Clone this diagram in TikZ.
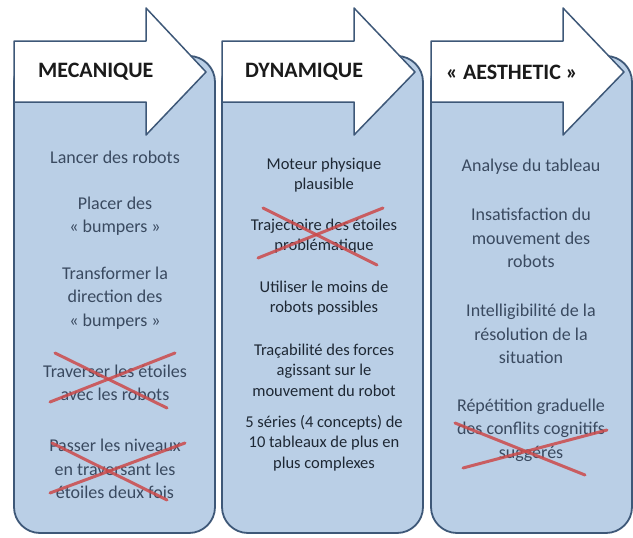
\documentclass[tikz,border=0pt]{standalone}
\usepackage{fontspec}
\setmainfont{Carlito}
\definecolor{panelblue}{HTML}{BACFE6}
\definecolor{edgeblue}{HTML}{3E5878}
\definecolor{headtext}{HTML}{1A1A1A}
\definecolor{itemtext}{HTML}{3A4A60}
\definecolor{itemdark}{HTML}{1E2834}
\definecolor{crossred}{HTML}{CC4A4A}
\tikzset{
  panel/.style={fill=panelblue, draw=edgeblue, line width=1.8pt, rounded corners=26pt},
  arrowshape/.style={fill=white, draw=edgeblue, line width=1.5pt, line join=round},
  head/.style={font=\fontsize{22}{26}\selectfont\bfseries, text=headtext, anchor=west, inner sep=0pt},
  item/.style={align=center, font=\fontsize{18}{23.5}\selectfont, text=itemtext, inner sep=0pt},
  itemb/.style={align=center, font=\fontsize{16.5}{20.5}\selectfont, text=itemdark, inner sep=0pt},
  crossline/.style={draw=crossred, line width=3pt, opacity=0.85, line cap=round}
}
\begin{document}
\begin{tikzpicture}[x=1pt,y=-1pt]
\useasboundingbox (0,0) rectangle (633,538);
% column 1
\draw[panel] (14,56) rectangle (215,533);
\draw[arrowshape] (14,41) -- (146,41) -- (146,8) -- (206,72) -- (146,135) -- (146,102) -- (14,102) -- cycle;
\node[head] (h1) at (38,72) {MECANIQUE};
\node[item] (a1) at (115,157) {Lancer des robots};
\node[item] (a2) at (115,216) {Placer des\\« bumpers »};
\node[item] (a3) at (115,298) {Transformer la\\direction des\\« bumpers »};
\node[item] (a4) at (115,383) {Traverser les étoiles\\avec les robots};
\node[item] (a5) at (115,469) {Passer les niveaux\\en traversant les\\étoiles deux fois};
\draw[crossline] (55,353) -- (167,408);
\draw[crossline] (50,402) -- (175,353);
\draw[crossline] (52,443) -- (167,500);
\draw[crossline] (50,493) -- (185,443);
% column 2
\draw[panel] (222,56) rectangle (423,533);
\draw[arrowshape] (222,41) -- (354,41) -- (354,8) -- (415,72) -- (354,135) -- (354,102) -- (222,102) -- cycle;
\node[head] (h2) at (245,72) {DYNAMIQUE};
\node[itemb] (b1) at (324,175) {Moteur physique\\plausible};
\node[itemb] (b2) at (324,236) {Trajectoire des étoiles\\problématique};
\node[itemb] (b3) at (324,298) {Utiliser le moins de\\robots possibles};
\node[itemb] (b4) at (324,370) {Traçabilité des forces\\agissant sur le\\mouvement du robot};
\node[itemb] (b5) at (324,443) {5 séries (4 concepts) de\\10 tableaux de plus en\\plus complexes};
\draw[crossline] (263,208) -- (377,265);
\draw[crossline] (258,258) -- (383,208);
% column 3
\draw[panel] (431,56) rectangle (632,533);
\draw[arrowshape] (431,41) -- (563,41) -- (563,8) -- (624,72) -- (563,135) -- (563,102) -- (431,102) -- cycle;
\node[head] (h3) at (446,72) {« AESTHETIC »};
\node[item] (c1) at (531,167) {Analyse du tableau};
\node[item] (c2) at (531,238) {Insatisfaction du\\mouvement des\\robots};
\node[item] (c3) at (531,334) {Intelligibilité de la\\résolution de la\\situation};
\node[item] (c4) at (531,430) {Répétition graduelle\\des conflits cognitifs\\suggérés};
\draw[crossline] (455,423) -- (585,475);
\draw[crossline] (463,468) -- (607,430);
\end{tikzpicture}
\end{document}
